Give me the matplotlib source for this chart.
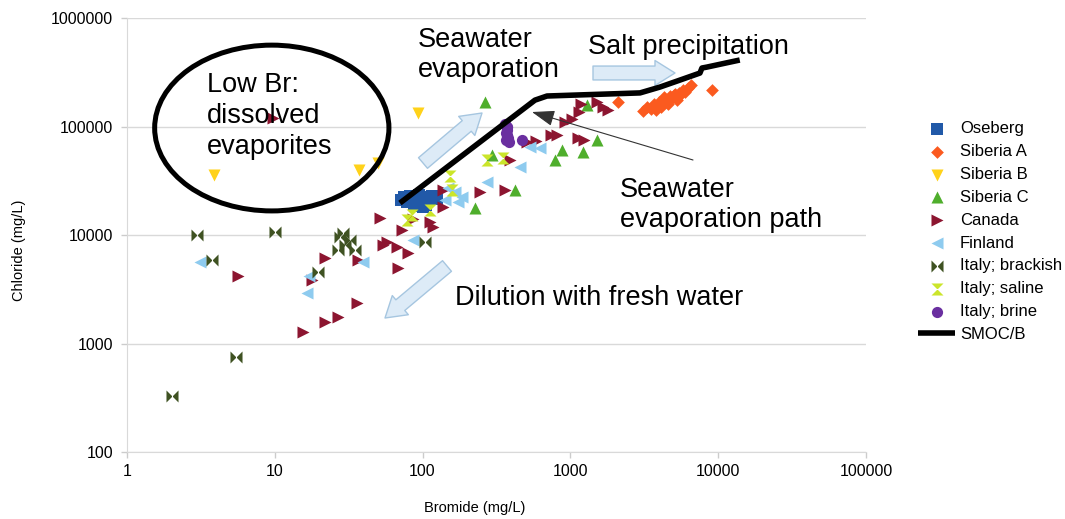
import matplotlib
matplotlib.use("Agg")
import matplotlib.pyplot as plt
from matplotlib.patches import Ellipse

plt.rcParams['font.family'] = ['Liberation Sans', 'DejaVu Sans']

# Bromide (x) and chloride (y), mg/L, per data set
oseberg_br = [72, 75, 78, 82, 85, 88, 92, 95, 98, 102, 105, 110, 115, 120, 126, 90, 100]
oseberg_cl = [21000, 22500, 20000, 23000, 21500, 19500, 22000, 23500, 20500, 22500,
              19000, 21000, 23000, 22000, 21500, 18500, 18000]

siberia_a_br = [2100, 9080, 3100, 3300, 3500, 3700, 3900, 4000, 4200, 4400, 4500, 4700, 4800,
                5000, 5200, 5400, 5600, 5800, 6000, 6300, 6600, 4100, 4600, 5300, 3800, 5100, 4300]
siberia_a_cl = [168000, 217000, 138000, 150000, 145000, 160000, 155000, 170000, 165000, 180000,
                172000, 190000, 178000, 195000, 185000, 205000, 198000, 215000, 210000, 225000,
                240000, 150000, 160000, 175000, 142000, 200000, 188000]

siberia_b_br = [3.9, 37, 50, 93]
siberia_b_cl = [35700, 39700, 46100, 133000]

siberia_c_br = [264, 295, 422, 226, 787, 877, 1217, 1514, 1294]
siberia_c_cl = [168000, 54600, 26000, 17700, 49100, 61000, 58000, 75000, 158000]

canada_br = [9.7, 5.6, 15.5, 21.9, 26.8, 36, 17.9, 21.9, 36.6, 68, 51.5, 72.6, 86, 112, 118,
             54, 67, 80, 137, 137, 245, 361, 390, 509, 585, 740, 812, 1125, 1236, 919, 1025,
             1143, 1180, 1514, 1662, 1796, 57.4]
canada_cl = [120000, 4190, 1280, 1580, 1750, 2360, 3850, 6140, 5890, 4970, 14400, 11100, 14000,
             13200, 11900, 8090, 7740, 6820, 26000, 18100, 24900, 26000, 49100, 72000, 73500,
             83600, 83600, 78300, 75200, 110000, 117000, 136000, 161000, 168000, 151000,
             142000, 8610]

finland_br = [3.1, 16.5, 17, 39.5, 86, 149, 166, 185, 174, 273, 456, 533, 623, 142]
finland_cl = [5640, 2920, 4190, 5640, 9000, 27100, 24900, 22400, 20100, 30700, 42400, 64700,
              63400, 21000]

brackish_br = [2.98, 10, 3.76, 5.46, 2.02, 27.6, 29.9, 26.8, 32.3, 34.9, 28.9, 19.6, 104]
brackish_cl = [10000, 10700, 5890, 752, 328, 9600, 8090, 7280, 9000, 7280, 10400, 4560, 8610]

saline_br = [153, 158, 78, 112, 273, 350, 85]
saline_cl = [35000, 26000, 13700, 17000, 49100, 51300, 15300]

brine_br = [360, 370, 375, 365, 372, 380, 368, 385, 375, 471]
brine_cl = [105000, 98000, 92000, 88000, 83000, 78000, 75000, 72000, 100000, 75200]

# seawater evaporation curve
smoc_br = [70.3, 576, 695, 2960, 4040, 5520, 7530, 7770, 8400, 14000]
smoc_cl = [19700, 175000, 191000, 204000, 231000, 268000, 311000, 346000, 353000, 410000]

x_ticks = [1, 10, 100, 1000, 10000, 100000]
y_ticks = [100, 1000, 10000, 100000, 1000000]

# bowtie shapes for the Italian samples
bowtie = [(-1, -1), (-1, 1), (1, -1), (1, 1)]
hourglass = [(-1, 1), (1, 1), (-1, -1), (1, -1)]

fig = plt.figure(figsize=(10.65, 5.19), dpi=100)
ax = fig.add_axes([0.1192, 0.1291, 0.6939, 0.8362])
ax.set_xscale('log')
ax.set_yscale('log')
ax.set_xlim(1, 100000)
ax.set_ylim(100, 1000000)

ax.scatter(oseberg_br, oseberg_cl, marker='s', s=65, color='#2159a8', lw=0, label='Oseberg', zorder=3)
ax.scatter(siberia_a_br, siberia_a_cl, marker='D', s=42, color='#fb5a1f', lw=0, label='Siberia A', zorder=3)
ax.scatter(siberia_b_br, siberia_b_cl, marker='v', s=75, color='#ffd21a', lw=0, label='Siberia B', zorder=3)
ax.scatter(siberia_c_br, siberia_c_cl, marker='^', s=75, color='#4fae2c', lw=0, label='Siberia C', zorder=3)
ax.scatter(canada_br, canada_cl, marker='>', s=75, color='#8c1530', lw=0, label='Canada', zorder=3)
ax.scatter(finland_br, finland_cl, marker='<', s=75, color='#8ecbef', lw=0, label='Finland', zorder=3)
ax.scatter(brackish_br, brackish_cl, marker=bowtie, s=75, color='#3f5222', lw=0, label='Italy; brackish', zorder=3)
ax.scatter(saline_br, saline_cl, marker=hourglass, s=75, color='#cbe52a', lw=0, label='Italy; saline', zorder=3)
ax.scatter(brine_br, brine_cl, marker='o', s=65, color='#6a2fa0', lw=0, label='Italy; brine', zorder=3)
ax.plot(smoc_br, smoc_cl, color='black', lw=4, solid_capstyle='butt', label='SMOC/B', zorder=4)

# axes styling
ax.set_xticks(x_ticks, [str(v) for v in x_ticks])
ax.set_yticks(y_ticks, [str(v) for v in y_ticks])
ax.minorticks_off()
ax.tick_params(axis='both', labelsize=11.5, color='#cccccc', length=4, width=1)
ax.tick_params(axis='y', pad=6)
ax.tick_params(axis='x', pad=5)
ax.grid(axis='y', color='#d9d9d9', lw=1)
ax.set_axisbelow(True)
for side in ['top', 'right']:
    ax.spines[side].set_visible(False)
ax.spines['left'].set_color('#d9d9d9')
ax.spines['bottom'].set_color('#d9d9d9')

ax.set_xlabel('Bromide (mg/L)', fontsize=10.5)
ax.set_ylabel('Chloride (mg/L)', fontsize=10.5)
ax.xaxis.set_label_coords(0.47, -0.113)
ax.yaxis.set_label_coords(-0.137, 0.465)

# low-Br field
ax.add_patch(Ellipse((0.196, 0.7465), 0.317, 0.382, transform=ax.transAxes,
                     fill=False, ec='black', lw=3.6, zorder=5))


def img_xy(x, y):
    return (x, 519 - y)


def block_arrow(tail, head):
    ax.annotate('', xy=img_xy(*head), xytext=img_xy(*tail),
                xycoords='figure pixels', textcoords='figure pixels',
                arrowprops=dict(arrowstyle='simple,head_width=0.9,head_length=0.72,tail_width=0.5',
                                mutation_scale=20, fc='#ddebf7', ec='#a6c6e0', lw=1,
                                shrinkA=0, shrinkB=0))


block_arrow((423, 163), (482, 113))
block_arrow((593, 73), (675, 73))
block_arrow((447, 266), (385, 318))

# thin pointer to the evaporation curve
ax.annotate('', xy=img_xy(532, 112), xytext=img_xy(693, 160),
            xycoords='figure pixels', textcoords='figure pixels',
            arrowprops=dict(arrowstyle='-|>,head_width=0.35,head_length=1.0', mutation_scale=14,
                            color='#333333', lw=0.8, shrinkA=0, shrinkB=0), zorder=6)

big = dict(fontsize=19.5, ha='left', va='center', zorder=7)
fig.text(207 / 1065, 1 - 116 / 519, 'Low Br:\ndissolved\nevaporites', linespacing=1.27, **big)
fig.text(418 / 1065, 1 - 55 / 519, 'Seawater\nevaporation', linespacing=1.22, **big)
fig.text(588 / 1065, 1 - 47 / 519, 'Salt precipitation', **big)
fig.text(620 / 1065, 1 - 205 / 519, 'Seawater\nevaporation path', linespacing=1.22, **big)
fig.text(455 / 1065, 1 - 298 / 519, 'Dilution with fresh water', **big)

ax.legend(loc='upper left', bbox_to_anchor=(0.856, 0.779), bbox_transform=fig.transFigure,
          frameon=False, fontsize=12, scatterpoints=1, handlelength=2.2, handletextpad=0.3,
          labelspacing=0.47, borderaxespad=0)

fig.savefig('out.png', dpi=100)
